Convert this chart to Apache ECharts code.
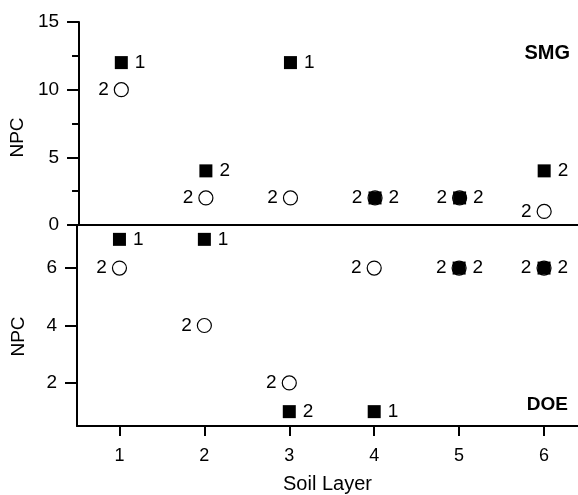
<!DOCTYPE html>
<html>
<head>
<meta charset="utf-8">
<script src="https://cdn.jsdelivr.net/npm/echarts@6/dist/echarts.min.js"></script>
<style>
  html, body { margin: 0; padding: 0; background: #fff; }
  #chart { width: 578px; height: 495px; }
</style>
</head>
<body>
<div id="chart"></div>
<script>
const layers = [1, 2, 3, 4, 5, 6]

// SMG panel (top)
const smgSquare = [12, 4, 12, 2, 2, 4]
const smgSquareLabel = ['1', '2', '1', '2', '2', '2']
const smgCircle = [10, 2, 2, 2, 2, 1]
const smgCircleLabel = ['2', '2', '2', '2', '2', '2']

// DOE panel (bottom)
const doeSquare = [7, 7, 1, 1, 6, 6]
const doeSquareLabel = ['1', '1', '2', '1', '2', '2']
const doeCircle = [6, 4, 2, 6, 6, 6]
const doeCircleLabel = ['2', '2', '2', '2', '2', '2']

const topTicks = [0, 5, 10, 15]
const bottomTicks = [2, 4, 6]
const bottomMinor = [1, 3, 5, 7]

const font = 'Liberation Sans, Arial, sans-serif'
const ink = '#000'

const zip = (ys, labels) => layers.map((x, i) => [x, ys[i], labels[i]])

function squares (xi, yi, ys, labels) {
    return {
        type: 'scatter', xAxisIndex: xi, yAxisIndex: yi,
        symbol: 'rect', symbolSize: 13, z: 3,
        itemStyle: { color: ink, opacity: 1 },
        label: {
            show: true, position: 'right', distance: 7,
            color: ink, fontSize: 19, fontFamily: font,
            formatter: p => p.value[2]
        },
        data: zip(ys, labels)
    }
}

function circles (xi, yi, ys, labels) {
    return {
        type: 'scatter', xAxisIndex: xi, yAxisIndex: yi,
        symbol: 'circle', symbolSize: 14, z: 2,
        itemStyle: { color: '#fff', borderColor: ink, borderWidth: 1.2, opacity: 1 },
        label: {
            show: true, position: 'left', distance: 5,
            color: ink, fontSize: 19, fontFamily: font,
            formatter: p => p.value[2]
        },
        data: zip(ys, labels)
    }
}

const axisLine = { show: true, onZero: false, lineStyle: { color: ink, width: 2 } }

let chart = echarts.init(document.getElementById('chart'))

chart.setOption({
    backgroundColor: '#fff',
    animation: false,
    grid: [
        { left: 77, right: 0, top: 22, height: 203 },
        { left: 77, right: 0, top: 225, height: 203 }
    ],
    xAxis: [
        {
            gridIndex: 0, type: 'value', min: 0.5, max: 6.4,
            axisLine: axisLine, axisTick: { show: false }, axisLabel: { show: false },
            splitLine: { show: false }
        },
        {
            gridIndex: 1, type: 'value', min: 0.5, max: 6.4,
            axisLine: axisLine,
            axisTick: { show: true, inside: false, length: 10, customValues: layers, lineStyle: { color: ink, width: 2 } },
            axisLabel: { show: true, margin: 21, customValues: layers, color: ink, fontSize: 18, fontFamily: font },
            splitLine: { show: false },
            name: 'Soil Layer', nameLocation: 'middle', nameGap: 48,
            nameTextStyle: { color: ink, fontSize: 20, fontFamily: font }
        }
    ],
    yAxis: [
        {
            gridIndex: 0, type: 'value', min: 0, max: 15,
            axisLine: axisLine,
            axisTick: { show: true, length: 12, customValues: topTicks, lineStyle: { color: ink, width: 2 } },
            minorTick: { show: true, splitNumber: 2, length: 7, lineStyle: { color: ink, width: 2 } },
            axisLabel: { show: true, margin: 20, customValues: topTicks, color: ink, fontSize: 19, fontFamily: font },
            splitLine: { show: false }, minorSplitLine: { show: false },
            interval: 5,
            name: 'NPC', nameLocation: 'middle', nameGap: 49,
            nameTextStyle: { color: ink, fontSize: 19, fontFamily: font, padding: [0, 28, 0, 0] }
        },
        {
            gridIndex: 1, type: 'value', min: 0.5, max: 7.5,
            axisLine: axisLine,
            axisTick: { show: true, length: 12, customValues: bottomTicks, lineStyle: { color: ink, width: 2 } },
            axisLabel: { show: true, margin: 20, customValues: bottomTicks, color: ink, fontSize: 19, fontFamily: font },
            splitLine: { show: false },
            name: 'NPC', nameLocation: 'middle', nameGap: 49,
            nameTextStyle: { color: ink, fontSize: 19, fontFamily: font, padding: [0, 22, 0, 0] }
        },
        {
            // short unlabelled ticks of the bottom panel
            gridIndex: 1, type: 'value', min: 0.5, max: 7.5,
            axisLine: { show: false },
            axisTick: { show: true, length: 7, customValues: bottomMinor, lineStyle: { color: ink, width: 2 } },
            axisLabel: { show: false },
            splitLine: { show: false }
        }
    ],
    graphic: [
        { type: 'text', right: 8, top: 43, style: { text: 'SMG', fontSize: 20, fontWeight: 'bold', fontFamily: font, fill: ink } },
        { type: 'text', right: 10, top: 395, style: { text: 'DOE', fontSize: 19, fontWeight: 'bold', fontFamily: font, fill: ink } }
    ],
    series: [
        circles(0, 0, smgCircle, smgCircleLabel),
        squares(0, 0, smgSquare, smgSquareLabel),
        circles(1, 1, doeCircle, doeCircleLabel),
        squares(1, 1, doeSquare, doeSquareLabel)
    ]
})
</script>
</body>
</html>
